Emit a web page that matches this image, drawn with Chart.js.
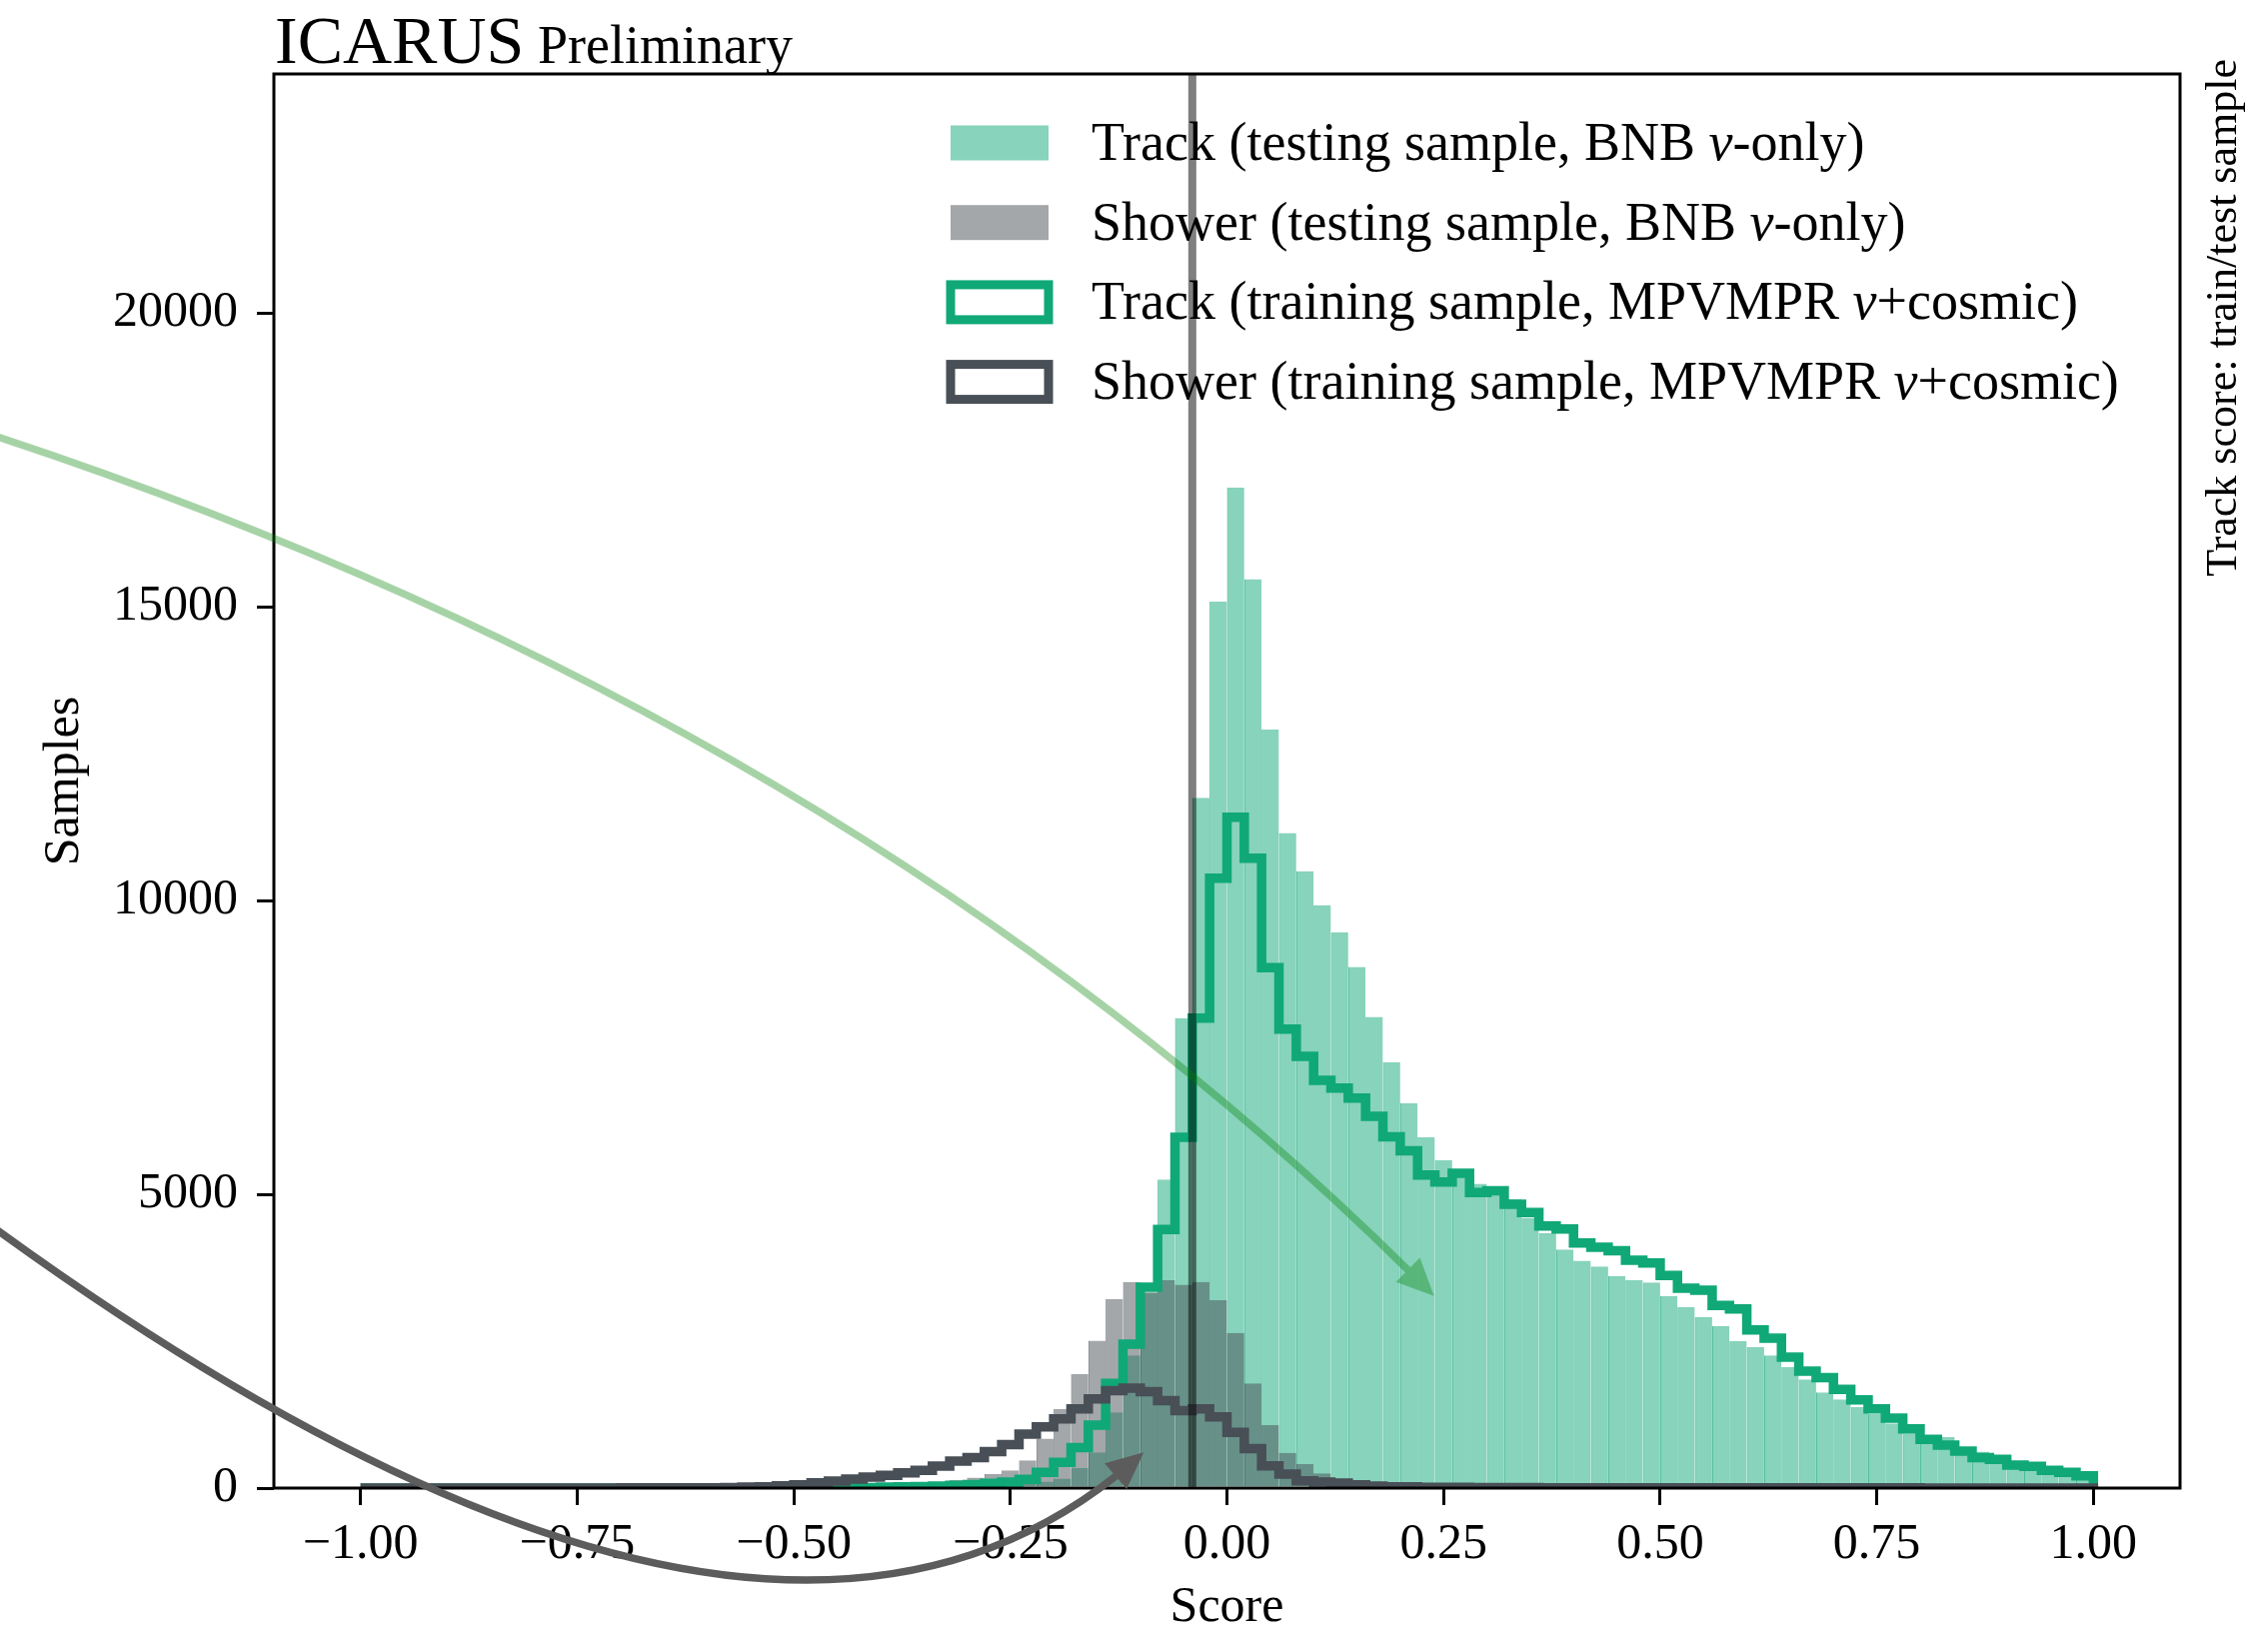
<!DOCTYPE html>
<html>
<head>
<meta charset="utf-8">
<script src="https://cdn.jsdelivr.net/npm/chart.js@4.4.1/dist/chart.umd.min.js"></script>
<style>
  html, body { margin: 0; padding: 0; background: #fff; }
  canvas { display: block; }
</style>
</head>
<body>
<canvas id="chart" width="2269" height="1628"></canvas>
<script>
// histogram binning: 100 bins of width 0.02 between -1 and 1
const binLow = -1;
const binHigh = 1;
const binCount = 100;

// testing sample (BNB nu-only), filled histograms
const trackTest = [
  0, 0, 0, 0, 0, 0, 0, 0, 0, 0,
  0, 0, 0, 0, 0, 0, 0, 0, 0, 0,
  0, 0, 0, 0, 0, 0, 2, 3, 4, 6,
  8, 10, 14, 18, 25, 35, 45, 60, 80, 110,
  160, 340, 610, 1290, 2260, 3330, 5250, 8000, 11750, 15090,
  17030, 15470, 12910, 11150, 10500, 9920, 9460, 8870, 8020, 7250,
  6550, 5970, 5580, 5400, 5180, 5100, 4920, 4600, 4340, 4060,
  3870, 3770, 3610, 3540, 3500, 3270, 3080, 2910, 2760, 2500,
  2400, 2260, 2060, 1850, 1630, 1510, 1380, 1260, 1100, 930,
  900, 870, 600, 620, 450, 440, 380, 330, 230, 150
];
const showerTest = [
  0, 0, 0, 0, 0, 0, 0, 0, 0, 0,
  0, 0, 0, 0, 0, 0, 0, 0, 0, 0,
  1, 1, 2, 2, 3, 4, 5, 7, 10, 15,
  20, 35, 55, 80, 140, 180, 240, 300, 470, 840,
  1350, 1940, 2510, 3220, 3510, 3330, 3540, 3460, 3510, 3200,
  2640, 1780, 1070, 600, 410, 250, 150, 80, 40, 20,
  10, 6, 4, 3, 2, 1, 0, 0, 0, 0,
  0, 0, 0, 0, 0, 0, 0, 0, 0, 0,
  0, 0, 0, 0, 0, 0, 0, 0, 0, 0,
  0, 0, 0, 0, 0, 0, 0, 0, 0, 0
];

// training sample (MPVMPR nu+cosmic), step histograms
const trackTrain = [
  0, 0, 0, 0, 0, 0, 0, 0, 0, 0,
  0, 0, 0, 0, 0, 0, 0, 0, 0, 0,
  0, 0, 0, 0, 0, 0, 0, 0, 5, 10,
  15, 20, 25, 35, 45, 60, 80, 100, 150, 270,
  440, 690, 1070, 1780, 2450, 3420, 4400, 5970, 8000, 10380,
  11420, 10720, 8860, 7810, 7350, 6940, 6810, 6640, 6330, 5980,
  5740, 5330, 5210, 5360, 5030, 5060, 4830, 4690, 4460, 4410,
  4170, 4100, 4040, 3880, 3830, 3620, 3400, 3370, 3110, 3050,
  2690, 2550, 2230, 1990, 1880, 1680, 1500, 1350, 1190, 1010,
  830, 730, 630, 520, 490, 390, 370, 300, 270, 210
];
const showerTrain = [
  0, 0, 0, 0, 1, 1, 1, 1, 1, 1,
  1, 2, 2, 2, 2, 3, 3, 3, 4, 4,
  5, 7, 15, 23, 40, 57, 91, 119, 153, 187,
  215, 261, 300, 374, 459, 520, 620, 740, 920, 1040,
  1180, 1350, 1520, 1660, 1700, 1640, 1490, 1320, 1350, 1210,
  950, 670, 380, 240, 125, 100, 85, 57, 34, 23,
  20, 14, 12, 11, 10, 9, 8, 7, 6, 6,
  5, 5, 5, 5, 5, 5, 4, 4, 4, 4,
  4, 4, 3, 3, 3, 3, 3, 3, 3, 3,
  2, 2, 2, 2, 2, 2, 2, 2, 2, 2
];

const xTicks = [-1, -0.75, -0.5, -0.25, 0, 0.25, 0.5, 0.75, 1];
const yTicks = [0, 5000, 10000, 15000, 20000];
const xRange = [-1.1, 1.1];
const yRange = [0, 24070];
const cutScore = -0.04;

const trackColor = "rgb(16, 168, 119)";
const showerColor = "rgb(72, 79, 86)";

// curved annotation arrows, in data coordinates
const arrows = [
  { from: [-1.42, 17900], ctrl: [-0.414, 13000], to: [0.239, 3270], color: "rgba(0, 128, 0, 0.35)", width: 7.5 },
  { from: [-1.42, 4400], ctrl: [-0.525, -5170], to: [-0.096, 610], color: "#5c5c5c", width: 7.5 },
];

const binWidth = (binHigh - binLow) / binCount;
const binEdges = Array.from({ length: binCount + 1 }, (_, i) => binLow + i * binWidth);
const binCenters = binEdges.slice(0, binCount).map((e) => e + binWidth / 2);

function barPoints(counts) {
  return counts.map((c, i) => ({ x: binCenters[i], y: c }));
}

function stepPoints(counts) {
  const pts = [{ x: binEdges[0], y: 0 }];
  counts.forEach((c, i) => pts.push({ x: binEdges[i], y: c }));
  pts.push({ x: binEdges[binCount], y: counts[binCount - 1] });
  pts.push({ x: binEdges[binCount], y: 0 });
  return pts;
}

function formatScore(v) {
  return (v < 0 ? "\u2212" : "") + Math.abs(v).toFixed(2);
}

const serif = '"Liberation Serif", "Times New Roman", serif';
Chart.defaults.font.family = serif;
Chart.defaults.font.size = 50;
Chart.defaults.color = "#000";

function drawLegend(chart) {
  const ctx = chart.ctx;
  const area = chart.chartArea;
  const patchX = area.left + 677;
  const firstRow = area.top + 69;
  const rowGap = 79.7;
  const patchW = 98;
  const patchH = 35;
  const items = chart.data.datasets.filter((d) => d.legendKind);

  ctx.save();
  items.forEach((item, i) => {
    const cy = firstRow + i * rowGap;
    if (item.legendKind === "fill") {
      ctx.fillStyle = item.backgroundColor;
      ctx.fillRect(patchX, cy - patchH / 2, patchW, patchH);
    } else {
      ctx.strokeStyle = item.borderColor;
      ctx.lineWidth = 9;
      ctx.lineJoin = "miter";
      ctx.strokeRect(patchX, cy - patchH / 2, patchW, patchH);
    }

    // label, with the nu in italics
    const parts = item.label.split("\u03bd");
    let tx = patchX + 141;
    const ty = cy + 17;
    ctx.fillStyle = "#000";
    ctx.textBaseline = "alphabetic";
    ctx.textAlign = "left";
    parts.forEach((part, j) => {
      ctx.font = `54px ${serif}`;
      ctx.fillText(part, tx, ty);
      tx += ctx.measureText(part).width;
      if (j < parts.length - 1) {
        ctx.font = `italic 54px ${serif}`;
        ctx.fillText("\u03bd", tx, ty);
        tx += ctx.measureText("\u03bd").width;
      }
    });
  });
  ctx.restore();
}

function drawArrow(chart, arrow) {
  const { ctx } = chart;
  const xs = chart.scales.x;
  const ys = chart.scales.y;
  const p0 = { x: xs.getPixelForValue(arrow.from[0]), y: ys.getPixelForValue(arrow.from[1]) };
  const c = { x: xs.getPixelForValue(arrow.ctrl[0]), y: ys.getPixelForValue(arrow.ctrl[1]) };
  const p2 = { x: xs.getPixelForValue(arrow.to[0]), y: ys.getPixelForValue(arrow.to[1]) };
  const bez = (t) => ({
    x: (1 - t) * (1 - t) * p0.x + 2 * t * (1 - t) * c.x + t * t * p2.x,
    y: (1 - t) * (1 - t) * p0.y + 2 * t * (1 - t) * c.y + t * t * p2.y,
  });

  const headLen = 37;
  const headW = 34;
  let lo = 0;
  let hi = 1;
  for (let i = 0; i < 40; i++) {
    const m = (lo + hi) / 2;
    const p = bez(m);
    if (Math.hypot(p.x - p2.x, p.y - p2.y) > headLen) lo = m;
    else hi = m;
  }
  const base = bez(lo);
  const q = { x: p0.x + (c.x - p0.x) * lo, y: p0.y + (c.y - p0.y) * lo };

  ctx.save();
  ctx.strokeStyle = arrow.color;
  ctx.fillStyle = arrow.color;
  ctx.lineWidth = arrow.width;
  ctx.lineCap = "butt";
  ctx.beginPath();
  ctx.moveTo(p0.x, p0.y);
  ctx.quadraticCurveTo(q.x, q.y, base.x, base.y);
  ctx.stroke();

  const len = Math.hypot(p2.x - base.x, p2.y - base.y);
  const nx = -(p2.y - base.y) / len;
  const ny = (p2.x - base.x) / len;
  ctx.beginPath();
  ctx.moveTo(p2.x, p2.y);
  ctx.lineTo(base.x + (nx * headW) / 2, base.y + (ny * headW) / 2);
  ctx.lineTo(base.x - (nx * headW) / 2, base.y - (ny * headW) / 2);
  ctx.closePath();
  ctx.fill();
  ctx.restore();
}

const annotations = {
  id: "annotations",
  beforeDatasetsDraw(chart) {
    drawLegend(chart);
  },
  afterDatasetsDraw(chart) {
    const { ctx, chartArea: a } = chart;
    ctx.save();
    ctx.strokeStyle = "#000";
    ctx.lineWidth = 3;
    ctx.strokeRect(a.left, a.top, a.right - a.left, a.bottom - a.top);
    ctx.restore();
  },
  afterDraw(chart) {
    const { ctx, chartArea: a } = chart;
    arrows.forEach((arrow) => drawArrow(chart, arrow));

    ctx.save();
    ctx.fillStyle = "#000";
    ctx.textBaseline = "alphabetic";
    ctx.textAlign = "left";
    ctx.font = `68px ${serif}`;
    ctx.fillText("ICARUS", a.left + 1, a.top - 11);
    ctx.font = `54px ${serif}`;
    ctx.fillText("Preliminary", a.left + 264, a.top - 11);

    ctx.translate(a.right + 56, a.top - 15);
    ctx.rotate(-Math.PI / 2);
    ctx.textAlign = "right";
    ctx.font = `44px ${serif}`;
    ctx.fillText("Track score: train/test sample", 0, 0);
    ctx.restore();
  },
};

const barStyle = {
  type: "bar",
  grouped: false,
  barPercentage: 1,
  categoryPercentage: 1,
  inflateAmount: 0,
  borderWidth: { top: 0, right: 0, bottom: 0, left: 1 },
};
const stepStyle = {
  type: "line",
  stepped: true,
  borderWidth: 9.5,
  pointRadius: 0,
  fill: false,
  clip: 0,
  borderJoinStyle: "miter",
  borderCapStyle: "butt",
};

new Chart(document.getElementById("chart").getContext("2d"), {
  type: "bar",
  data: {
    datasets: [
      {
        ...barStyle,
        label: "Track (testing sample, BNB \u03bd-only)",
        legendKind: "fill",
        data: barPoints(trackTest),
        backgroundColor: "rgba(16, 168, 119, 0.5)",
        borderColor: "rgba(16, 168, 119, 0.75)",
        order: 5,
      },
      {
        ...barStyle,
        label: "Shower (testing sample, BNB \u03bd-only)",
        legendKind: "fill",
        data: barPoints(showerTest),
        backgroundColor: "rgba(72, 79, 86, 0.5)",
        borderColor: "rgba(72, 79, 86, 0.7)",
        order: 4,
      },
      {
        ...stepStyle,
        label: "Track (training sample, MPVMPR \u03bd+cosmic)",
        legendKind: "step",
        data: stepPoints(trackTrain),
        borderColor: trackColor,
        order: 3,
      },
      {
        ...stepStyle,
        label: "Shower (training sample, MPVMPR \u03bd+cosmic)",
        legendKind: "step",
        data: stepPoints(showerTrain),
        borderColor: showerColor,
        order: 2,
      },
      {
        type: "line",
        label: "cut",
        data: [
          { x: cutScore, y: yRange[0] },
          { x: cutScore, y: yRange[1] },
        ],
        borderColor: "rgba(0, 0, 0, 0.5)",
        borderWidth: 8,
        pointRadius: 0,
        fill: false,
        clip: 0,
        order: 1,
      },
    ],
  },
  options: {
    responsive: false,
    animation: false,
    devicePixelRatio: 1,
    events: [],
    layout: { padding: { left: 0, right: 88, top: 74, bottom: 0 } },
    plugins: {
      legend: { display: false },
      tooltip: { enabled: false },
    },
    scales: {
      x: {
        type: "linear",
        min: xRange[0],
        max: xRange[1],
        offset: false,
        afterFit: (scale) => {
          scale.height = 139;
        },
        afterBuildTicks: (scale) => {
          scale.ticks = xTicks.map((v) => ({ value: v }));
        },
        ticks: {
          callback: (v) => formatScore(v),
          autoSkip: false,
          maxRotation: 0,
          padding: 10,
          font: { size: 50 },
        },
        grid: {
          offset: false,
          drawOnChartArea: false,
          drawTicks: true,
          tickLength: 17,
          color: "#000",
          lineWidth: 3,
        },
        border: { display: false },
        title: {
          display: true,
          text: "Score",
          font: { size: 50, lineHeight: 0.88 },
          padding: { top: 0, bottom: -3 },
        },
      },
      y: {
        type: "linear",
        min: yRange[0],
        max: yRange[1],
        afterFit: (scale) => {
          scale.width = 274;
        },
        afterBuildTicks: (scale) => {
          scale.ticks = yTicks.map((v) => ({ value: v }));
        },
        ticks: {
          callback: (v) => String(v),
          padding: 19,
          font: { size: 50 },
        },
        grid: {
          drawOnChartArea: false,
          drawTicks: true,
          tickLength: 17,
          color: "#000",
          lineWidth: 3,
        },
        border: { display: false },
        title: {
          display: true,
          text: "Samples",
          font: { size: 50, lineHeight: 0.88 },
          padding: { top: 43, bottom: 0 },
        },
      },
    },
  },
  plugins: [annotations],
});
</script>
</body>
</html>
